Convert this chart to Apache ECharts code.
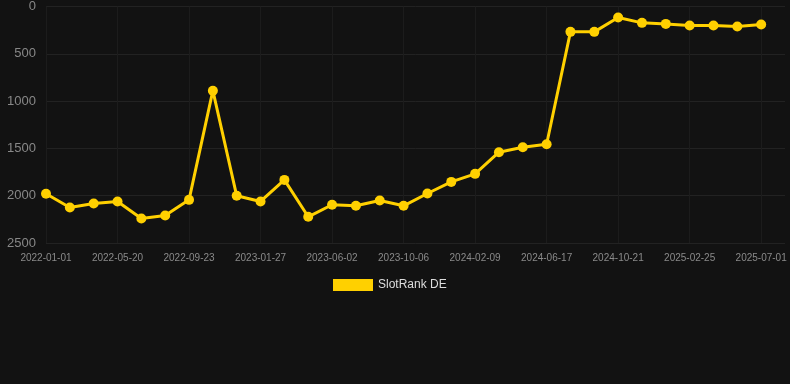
<!DOCTYPE html>
<html><head><meta charset="utf-8">
<script src="https://cdn.jsdelivr.net/npm/echarts@6/dist/echarts.min.js"></script>
<style>html,body{margin:0;padding:0;background:#121212}#c{width:790px;height:384px}</style>
</head><body><div id="c"></div>
<script>
var dates = ['2022-01-01','2022-02-16','2022-04-03','2022-05-20','2022-07-01','2022-08-12','2022-09-23','2022-11-04','2022-12-16','2023-01-27','2023-03-10','2023-04-21','2023-06-02','2023-07-14','2023-08-25','2023-10-06','2023-11-17','2023-12-29','2024-02-09','2024-03-22','2024-05-05','2024-06-17','2024-07-29','2024-09-09','2024-10-21','2024-12-02','2025-01-13','2025-02-25','2025-04-08','2025-05-20','2025-07-01',''];
var rankDE = [1980,2125,2083,2061,2241,2209,2044,890,2001,2061,1833,2223,2096,2107,2051,2107,1977,1854,1769,1540,1488,1456,268,268,116,173,184,200,200,211,190];
var yTicks = [0,500,1000,1500,2000,2500];
var seriesName = 'SlotRank DE';

var chart = echarts.init(document.getElementById('c'), null, {renderer:'canvas'});
chart.setOption({
  backgroundColor:'#121212',
  animation:false,
  grid:{left:46,right:5,top:6,bottom:141},
  legend:{top:274,left:328,itemWidth:40,itemHeight:12,icon:'rect',itemGap:10,
    textStyle:{color:'#dddddd',fontSize:12,fontFamily:'Arial, Liberation Sans, sans-serif'},data:[seriesName]},
  xAxis:{type:'category',data:dates,boundaryGap:false,
    axisLine:{show:false,onZero:false},axisTick:{show:false},
    axisLabel:{interval:2,color:'#8a8a8a',fontSize:10,margin:10,fontFamily:'Arial, Liberation Sans, sans-serif'},
    splitLine:{show:true,interval:2,lineStyle:{color:'#1c1c1c',width:1}}},
  yAxis:{type:'value',inverse:true,min:yTicks[0],max:yTicks[yTicks.length-1],interval:500,
    axisLine:{show:false},axisTick:{show:false},
    axisLabel:{color:'#888888',fontSize:13,margin:10,fontFamily:'Arial, Liberation Sans, sans-serif',
      formatter:function(v){return String(v);}},
    splitLine:{show:true,lineStyle:{color:'#222222',width:1}}},
  series:[{name:seriesName,type:'line',data:rankDE,symbol:'circle',symbolSize:10,
    itemStyle:{color:'#ffd000'},lineStyle:{color:'#ffd000',width:3}}]
});
</script></body></html>
